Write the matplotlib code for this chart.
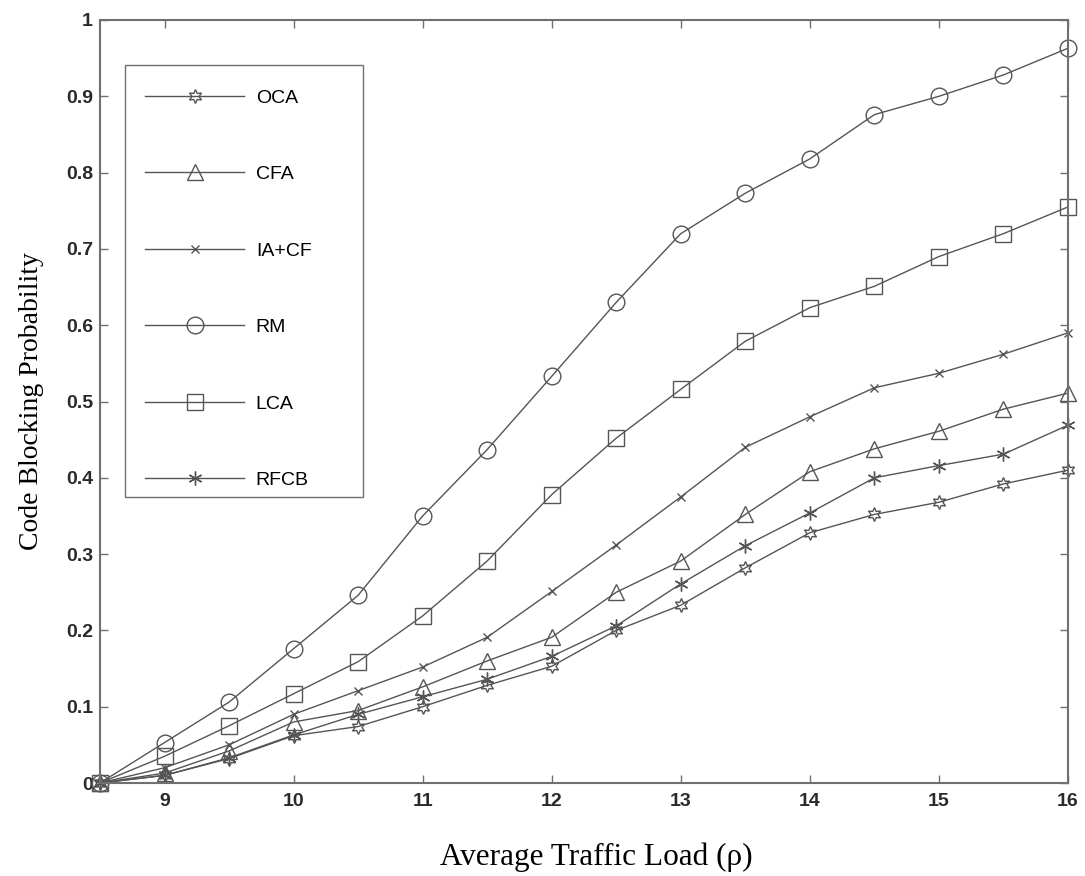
import matplotlib.pyplot as plt
from matplotlib.patches import Rectangle

load = [8.5, 9, 9.5, 10, 10.5, 11, 11.5, 12, 12.5, 13, 13.5, 14, 14.5, 15, 15.5, 16]

oca = [0, 0.010, 0.032, 0.062, 0.074, 0.100, 0.128, 0.153, 0.200, 0.233, 0.282, 0.328, 0.352, 0.368, 0.392, 0.410]
cfa = [0, 0.013, 0.042, 0.080, 0.095, 0.126, 0.160, 0.191, 0.250, 0.291, 0.352, 0.408, 0.438, 0.461, 0.490, 0.511]
ia_cf = [0, 0.020, 0.050, 0.090, 0.121, 0.152, 0.191, 0.251, 0.312, 0.375, 0.440, 0.480, 0.518, 0.537, 0.562, 0.590]
rm = [0, 0.053, 0.106, 0.176, 0.246, 0.350, 0.437, 0.533, 0.630, 0.720, 0.773, 0.818, 0.876, 0.900, 0.928, 0.963]
lca = [0, 0.035, 0.075, 0.117, 0.159, 0.219, 0.291, 0.378, 0.452, 0.516, 0.579, 0.623, 0.651, 0.690, 0.720, 0.755]
rfcb = [0, 0.010, 0.033, 0.063, 0.090, 0.113, 0.136, 0.166, 0.206, 0.261, 0.311, 0.354, 0.400, 0.416, 0.431, 0.469]

xticks = [9, 10, 11, 12, 13, 14, 15, 16]
yticks = [0, 0.1, 0.2, 0.3, 0.4, 0.5, 0.6, 0.7, 0.8, 0.9, 1]
ytick_labels = ["0", "0.1", "0.2", "0.3", "0.4", "0.5", "0.6", "0.7", "0.8", "0.9", "1"]

series = [
    ("OCA", oca, (6, 1, 0), 10),
    ("CFA", cfa, "^", 12),
    ("IA+CF", ia_cf, "x", 6),
    ("RM", rm, "o", 12),
    ("LCA", lca, "s", 11),
    ("RFCB", rfcb, (6, 2, 0), 10),
]

line_color = "#555555"
grey = "#707070"
W, H = 1085, 876

fig = plt.figure(figsize=(W / 100, H / 100), dpi=100)
ax = fig.add_axes([100 / W, 1 - 783 / H, 968 / W, 763 / H])

for name, vals, mk, ms in series:
    ax.plot(load, vals, color=line_color, linewidth=1.0, marker=mk, markersize=ms,
            markerfacecolor="none", markeredgecolor=line_color, markeredgewidth=1.0,
            label=name, clip_on=False)

ax.set_xlim(8.5, 16)
ax.set_ylim(0, 1)
ax.set_xticks(xticks)
ax.set_yticks(yticks)
ax.set_yticklabels(ytick_labels)
for lbl in ax.get_xticklabels() + ax.get_yticklabels():
    lbl.set_fontfamily("Liberation Sans")
    lbl.set_fontweight("bold")
    lbl.set_fontsize(14)
    lbl.set_color("#2a2a2a")
ax.tick_params(direction="in", top=True, right=True, length=6, color=grey, width=1)
ax.tick_params(axis="x", pad=7)
ax.tick_params(axis="y", pad=5)
for sp in ax.spines.values():
    sp.set_color(grey)
    sp.set_linewidth(1.5)

ax.set_xlabel("Average Traffic Load (\u03c1)", fontfamily="Liberation Serif", fontsize=22.5)
ax.xaxis.set_label_coords(0.513, -0.078)
ax.set_ylabel("Code Blocking Probability", fontfamily="Liberation Serif", fontsize=20, labelpad=16)

# legend box (MATLAB style, wider than its contents)
ax.add_patch(Rectangle((125 / W, 1 - 497 / H), 238 / W, 432 / H, transform=fig.transFigure,
                       facecolor="white", edgecolor=grey, linewidth=1.0, zorder=4, clip_on=False))
leg = ax.legend(loc="upper left", bbox_to_anchor=(145 / W, 1 - 89 / H), bbox_transform=fig.transFigure,
                handlelength=5.1, labelspacing=3.03, borderpad=0, handletextpad=0.6, borderaxespad=0,
                frameon=False, prop={"family": "Liberation Sans", "size": 14})
leg.set_zorder(5)

fig.savefig("out.png", dpi=100)
